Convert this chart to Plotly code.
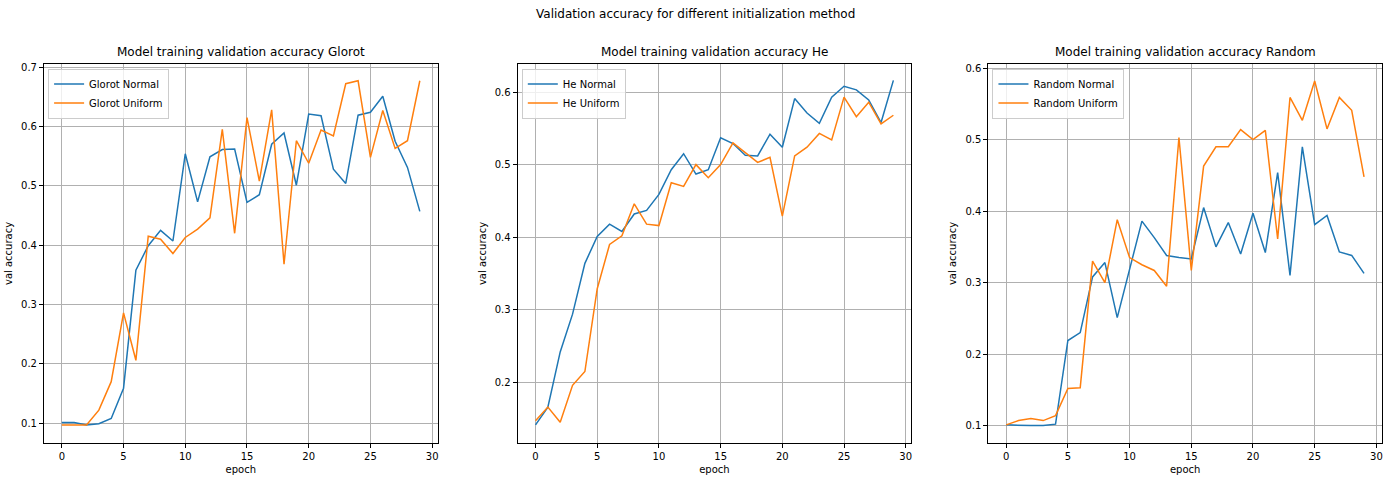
import plotly.graph_objects as go

# epochs shared by every series
epochs = list(range(30))

glorot_normal = [0.101, 0.101, 0.097, 0.099, 0.108, 0.159, 0.358, 0.399, 0.425, 0.407,
                 0.554, 0.473, 0.549, 0.561, 0.562, 0.472, 0.485, 0.570, 0.589, 0.501,
                 0.621, 0.618, 0.528, 0.504, 0.619, 0.624, 0.651, 0.575, 0.531, 0.457]
glorot_uniform = [0.097, 0.097, 0.097, 0.122, 0.170, 0.286, 0.206, 0.415, 0.410, 0.386,
                  0.413, 0.427, 0.446, 0.595, 0.420, 0.615, 0.508, 0.628, 0.368, 0.576,
                  0.538, 0.594, 0.584, 0.672, 0.677, 0.548, 0.627, 0.563, 0.576, 0.677]

he_normal = [0.1415, 0.166, 0.242, 0.294, 0.364, 0.401, 0.418, 0.408, 0.432, 0.437,
             0.459, 0.493, 0.515, 0.487, 0.493, 0.537, 0.529, 0.513, 0.512, 0.542,
             0.524, 0.591, 0.571, 0.557, 0.593, 0.608, 0.603, 0.589, 0.558, 0.616]
he_uniform = [0.147, 0.166, 0.145, 0.196, 0.215, 0.329, 0.390, 0.402, 0.446, 0.418,
              0.416, 0.475, 0.470, 0.500, 0.482, 0.500, 0.530, 0.517, 0.503, 0.510,
              0.429, 0.512, 0.524, 0.543, 0.534, 0.593, 0.566, 0.586, 0.556, 0.568]

random_normal = [0.101, 0.100, 0.100, 0.100, 0.102, 0.219, 0.230, 0.308, 0.328, 0.251,
                 0.317, 0.386, 0.363, 0.338, 0.335, 0.333, 0.405, 0.350, 0.384, 0.340,
                 0.397, 0.342, 0.454, 0.310, 0.490, 0.381, 0.394, 0.343, 0.338, 0.313]
random_uniform = [0.101, 0.107, 0.110, 0.107, 0.114, 0.152, 0.153, 0.330, 0.300, 0.388,
                  0.335, 0.325, 0.317, 0.295, 0.503, 0.317, 0.463, 0.490, 0.490, 0.514,
                  0.500, 0.513, 0.361, 0.559, 0.527, 0.582, 0.515, 0.559, 0.541, 0.448]

panels = [
    ("Glorot", glorot_normal, glorot_uniform, [0.0664, 0.7056], [0.1, 0.2, 0.3, 0.4, 0.5, 0.6, 0.7]),
    ("He", he_normal, he_uniform, [0.1163, 0.6389], [0.2, 0.3, 0.4, 0.5, 0.6]),
    ("Random", random_normal, random_uniform, [0.0754, 0.6061], [0.1, 0.2, 0.3, 0.4, 0.5, 0.6]),
]

blue = "#1f77b4"
orange = "#ff7f0e"
font = "DejaVu Sans"

x_domains = [[0.0316, 0.3149], [0.3724, 0.6556], [0.711, 0.9942]]
y_domain = [0.079, 0.871]

fig = go.Figure()
layout = dict(
    width=1391, height=481,
    margin=dict(l=0, r=0, t=0, b=0),
    paper_bgcolor="white", plot_bgcolor="white",
    font=dict(family=font, size=10, color="black"),
    showlegend=True,
    annotations=[],
)
layout["annotations"].append(dict(
    text="Validation accuracy for different initialization method",
    x=0.5, y=1 - 12 / 481, xref="paper", yref="paper", xanchor="center",
    showarrow=False, font=dict(size=12), yanchor="middle"))

for i, (name, normal, uniform, yr, yt) in enumerate(panels):
    n = "" if i == 0 else str(i + 1)
    leg = "legend" + n
    fig.add_trace(go.Scatter(x=epochs, y=normal, mode="lines", name=name + " Normal",
                             line=dict(color=blue, width=1.5), xaxis="x" + n, yaxis="y" + n,
                             legend=leg))
    fig.add_trace(go.Scatter(x=epochs, y=uniform, mode="lines", name=name + " Uniform",
                             line=dict(color=orange, width=1.5), xaxis="x" + n, yaxis="y" + n,
                             legend=leg))
    axis_style = dict(showline=True, linecolor="black", linewidth=1, mirror=True,
                      ticks="outside", ticklen=4, tickcolor="black",
                      showgrid=True, gridcolor="#b0b0b0", gridwidth=1, zeroline=False,
                      tickfont=dict(size=10))
    layout["xaxis" + n] = dict(axis_style, domain=x_domains[i], range=[-1.45, 30.45],
                               tickvals=[0, 5, 10, 15, 20, 25, 30],
                               title=dict(text="epoch", font=dict(size=10), standoff=4),
                               anchor="y" + n)
    layout["yaxis" + n] = dict(axis_style, domain=y_domain, range=yr, tickvals=yt,
                               title=dict(text="val accuracy", font=dict(size=10), standoff=6),
                               anchor="x" + n)
    layout[leg] = dict(x=x_domains[i][0] + 0.003, y=y_domain[1] - 0.01,
                       xanchor="left", yanchor="top",
                       bgcolor="rgba(255,255,255,0.8)", bordercolor="#cccccc", borderwidth=1,
                       font=dict(size=10), tracegroupgap=0)
    layout["annotations"].append(dict(
        text="Model training validation accuracy " + name,
        x=(x_domains[i][0] + x_domains[i][1]) / 2, y=y_domain[1] + 0.006,
        xref="paper", yref="paper", showarrow=False, font=dict(size=12),
        xanchor="center", yanchor="bottom"))

fig.update_layout(**layout)
# drop the browser's default body margin so the figure sits at the page corner
fig.write_html("out.html", config={"displayModeBar": False},
               post_script="document.body.style.margin='0';")
